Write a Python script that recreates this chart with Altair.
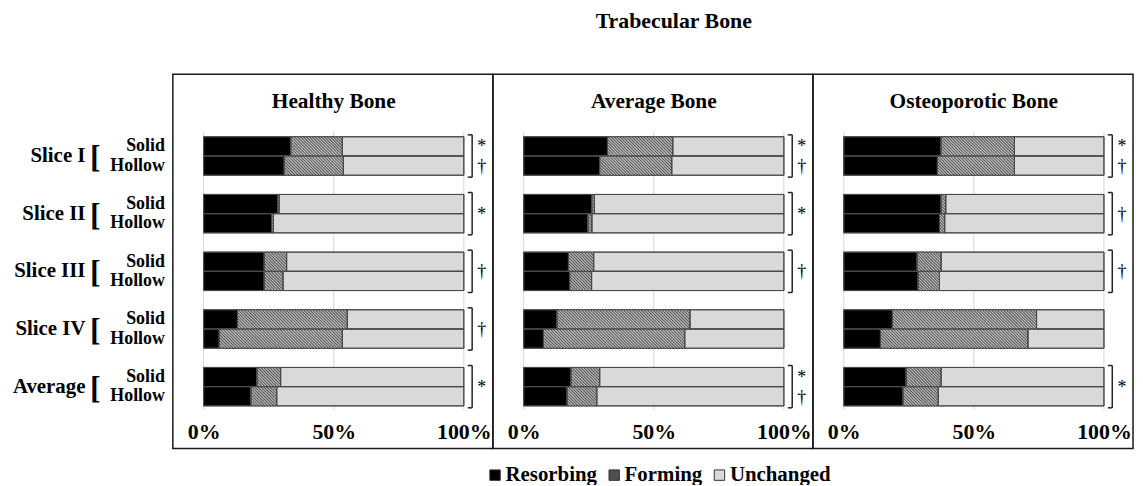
import altair as alt
import pandas as pd

FONT = "Liberation Serif"

panels = ["Healthy Bone", "Average Bone", "Osteoporotic Bone"]
groups = ["Slice I", "Slice II", "Slice III", "Slice IV", "Average"]
subs = ["Solid", "Hollow"]
categories = ["Resorbing", "Forming", "Unchanged"]
colors = ["#000000", "#4f4f4f", "#d9d9d9"]

# values per panel, order: Slice I solid, Slice I hollow, Slice II solid, ...
resorbing = [
    [33.5, 31.0, 28.4, 26.1, 23.3, 23.3, 13.0, 6.0, 20.5, 18.2],
    [32.2, 29.2, 26.2, 24.7, 17.2, 17.7, 12.8, 7.6, 18.2, 16.7],
    [37.4, 36.0, 37.4, 36.8, 28.2, 28.6, 18.7, 14.1, 24.0, 22.8],
]
forming = [
    [19.8, 22.7, 0.6, 0.7, 8.6, 7.2, 42.2, 47.3, 9.1, 9.9],
    [25.1, 27.7, 1.0, 1.5, 9.7, 8.4, 51.1, 54.3, 11.0, 11.4],
    [28.2, 29.6, 1.8, 2.0, 9.2, 8.2, 55.4, 56.7, 13.4, 13.5],
]
unchanged = [
    [46.7, 46.3, 71.0, 73.2, 68.1, 69.5, 44.8, 46.7, 70.4, 71.9],
    [42.7, 43.1, 72.8, 73.8, 73.1, 73.9, 36.1, 38.1, 70.8, 71.9],
    [34.4, 34.4, 60.8, 61.2, 62.6, 63.2, 25.9, 29.2, 62.6, 63.7],
]
# significance markers per panel per group
markers = [
    ["*†", "*", "†", "†", "*"],
    ["*†", "*", "†", "", "*†"],
    ["*†", "†", "†", "", "*"],
]
tick_values = [0, 50, 100]

W, H = 967, 377
STEP = 123.0  # horizontal shift between panels, in percent units
X_LO, X_HI = -11.83, 2 * STEP + 111.17
Y_LO, Y_HI = -3.254, 16.22
XS = W / (X_HI - X_LO)  # px per percent
YS = H / (Y_HI - Y_LO)  # px per row unit

xscale = alt.Scale(domain=[X_LO, X_HI], nice=False, zero=False)
yscale = alt.Scale(domain=[Y_LO, Y_HI], nice=False, zero=False, reverse=True)
xaxis = alt.Axis(
    values=[p * STEP + v for p in range(3) for v in tick_values],
    labelExpr="round(datum.value % 123) + '%'",
    domain=False, ticks=False, grid=False, title=None,
    offset=-27, labelPadding=0, labelFlush=False,
    labelFont=FONT, labelFontSize=22, labelFontWeight="bold", labelColor="black",
)


def X(f):
    return alt.X(f, type="quantitative", scale=xscale, axis=xaxis)


def Y(f):
    return alt.Y(f, type="quantitative", scale=yscale, axis=None)


# bars
rows = []
for p in range(3):
    for i in range(10):
        g, s = divmod(i, 2)
        start = 0.0
        for cat, vals in zip(categories, [resorbing[p], forming[p], unchanged[p]]):
            v = vals[i]
            rows.append(dict(panel=panels[p], group=groups[g], sub=subs[s], category=cat,
                             value=v, x=p * STEP + start, x2=p * STEP + start + v,
                             y=g * 3 + s, y2=g * 3 + s + 1))
            start += v
bars_df = pd.DataFrame(rows)

# diagonal hatch strokes inside every "Forming" bar (derived from the bars above)
PITCH = 3.0
hatch = []
for r in rows:
    if r["category"] != "Forming":
        continue
    bw = (r["x2"] - r["x"]) * XS
    bh = (r["y2"] - r["y"]) * YS
    c = -bh + 0.5
    while c < bw:
        sx, sy = (c, 0.0) if c >= 0 else (0.0, -c)
        ex, ey = (c + bh, bh) if c + bh <= bw else (bw, bw - c)
        if ex - sx > 0.3:
            hatch.append(dict(x=r["x"] + sx / XS, x2=r["x"] + ex / XS,
                              y=r["y"] + sy / YS, y2=r["y"] + ey / YS))
        c += PITCH
hatch_df = pd.DataFrame(hatch)

grid_df = pd.DataFrame([dict(x=p * STEP + v, y=-0.25, y2=14.2) for p in range(3) for v in tick_values])
box_df = pd.DataFrame([dict(x=p * STEP + X_LO, x2=p * STEP + X_LO + STEP, y=Y_LO, y2=Y_HI) for p in range(3)])
title_df = pd.DataFrame([dict(x=p * STEP + 50, y=-1.81, text=panels[p]) for p in range(3)])

br_v, br_t, mk = [], [], []
for p in range(3):
    for g in range(5):
        m = markers[p][g]
        if not m:
            continue
        br_v.append(dict(x=p * STEP + 103.2, y=g * 3 - 0.1, y2=g * 3 + 2.1))
        for yy in (g * 3 - 0.1, g * 3 + 2.1):
            br_t.append(dict(x=p * STEP + 101.5, x2=p * STEP + 103.2, y=yy))
        if len(m) == 2:
            mk.append(dict(x=p * STEP + 106.9, y=g * 3 + 0.55, text=m[0]))
            mk.append(dict(x=p * STEP + 106.9, y=g * 3 + 1.6, text=m[1]))
        else:
            mk.append(dict(x=p * STEP + 106.9, y=g * 3 + 1.05, text=m))
brv_df = pd.DataFrame(br_v)
brt_df = pd.DataFrame(br_t)
mk_df = pd.DataFrame(mk)

grp_df = pd.DataFrame([dict(y=g * 3 + 1.0, text=groups[g]) for g in range(5)])
brk_df = pd.DataFrame([dict(y=g * 3 + 1.05, text="[") for g in range(5)])
sub_df = pd.DataFrame([dict(y=g * 3 + s + 0.5, text=subs[s]) for g in range(5) for s in range(2)])

bars = alt.Chart(bars_df).mark_rect(stroke="#4a4a4a", strokeWidth=1).encode(
    x=X("x"), x2="x2", y=Y("y"), y2="y2",
    color=alt.Color("category:N",
                    scale=alt.Scale(domain=categories, range=colors),
                    legend=alt.Legend(orient="none", legendX=314, legendY=393, direction="horizontal",
                                      title=None, symbolType="square", symbolSize=110,
                                      symbolStrokeColor="#333333", symbolStrokeWidth=1,
                                      labelFont=FONT, labelFontSize=21, labelFontWeight="bold",
                                      labelColor="black", labelOffset=0, columnPadding=6)),
    tooltip=["panel", "group", "sub", "category", "value"],
)
hatch_l = alt.Chart(hatch_df).mark_rule(color="#c4c4c4", strokeWidth=1.1).encode(
    x=X("x"), x2="x2", y=Y("y"), y2="y2")
outline = alt.Chart(bars_df).mark_rect(fillOpacity=0, stroke="#4a4a4a", strokeWidth=1).encode(
    x=X("x"), x2="x2", y=Y("y"), y2="y2")

grid = alt.Chart(grid_df).mark_rule(color="#d6d6d6", strokeWidth=1).encode(x=X("x"), y=Y("y"), y2="y2")
boxes = alt.Chart(box_df).mark_rect(fillOpacity=0, stroke="#1a1a1a", strokeWidth=1.5).encode(
    x=X("x"), x2="x2", y=Y("y"), y2="y2")
ptitles = alt.Chart(title_df).mark_text(font=FONT, fontSize=21.5, fontWeight="bold", color="black",
                                        baseline="middle").encode(x=X("x"), y=Y("y"), text="text")
brv = alt.Chart(brv_df).mark_rule(color="#222222", strokeWidth=1.5).encode(x=X("x"), y=Y("y"), y2="y2")
brt = alt.Chart(brt_df).mark_rule(color="#222222", strokeWidth=1.5).encode(x=X("x"), x2="x2", y=Y("y"))
mks = alt.Chart(mk_df).mark_text(font=FONT, fontSize=18, color="#000000", baseline="middle").encode(
    x=X("x"), y=Y("y"), text="text")

grp = alt.Chart(grp_df).mark_text(font=FONT, fontSize=21, fontWeight="bold", color="black",
                                  align="right", baseline="middle").encode(
    x=alt.value(-88), y=Y("y"), text="text")
brk = alt.Chart(brk_df).mark_text(font=FONT, fontSize=32, fontWeight="bold", color="black",
                                  align="center", baseline="middle").encode(
    x=alt.value(-78), y=Y("y"), text="text")
sub = alt.Chart(sub_df).mark_text(font=FONT, fontSize=18, fontWeight="bold", color="black",
                                  align="right", baseline="middle").encode(
    x=alt.value(-8), y=Y("y"), text="text")

chart = alt.layer(grid, bars, hatch_l, outline, boxes, ptitles, brv, brt, mks, grp, brk, sub).properties(
    width=W, height=H,
    title=alt.Title("Trabecular Bone", font=FONT, fontSize=22, fontWeight="bold", color="black",
                    anchor="middle", offset=41, dx=21),
    autosize=alt.AutoSizeParams(type="none"),
    padding={"left": 166, "top": 65, "right": 2, "bottom": 35},
).configure_view(stroke=None).configure_legend(
    labelFont=FONT, labelFontSize=21, labelFontWeight="bold", labelColor="black"
)

chart.save("out.html", embed_options={"renderer": "svg", "actions": False})
